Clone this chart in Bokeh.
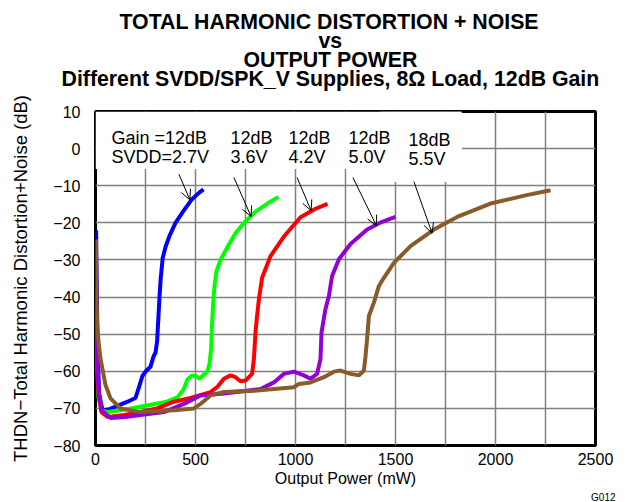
from bokeh.plotting import figure
from bokeh.models import (Range1d, FixedTicker, Label, Arrow, OpenHead, Title, BoxAnnotation)
from bokeh.embed import file_html
from bokeh.resources import INLINE

FONT = "Liberation Sans"

# ---- data (mW, dB) ----
blue_x = [3, 6, 10, 18, 35, 70, 110, 160, 200, 215, 235, 255, 275, 290, 300, 308, 315, 320, 326, 336, 350, 370, 400, 440, 480, 520, 540]
blue_y = [-22, -35, -52, -66, -70.5, -70.2, -69.3, -68.2, -67.2, -64.7, -61.2, -59.8, -58.8, -56, -55, -52, -45, -40, -35, -29.5, -26.5, -23.5, -20, -16.8, -13.8, -11.8, -11]

green_x = [3, 8, 15, 30, 60, 150, 250, 350, 410, 440, 460, 480, 500, 520, 540, 560, 570, 578, 583, 588, 595, 605, 625, 660, 700, 750, 800, 860, 915]
green_y = [-45, -60, -67, -70.5, -71, -70.3, -69.3, -68.3, -67, -65, -62.2, -61.2, -61.2, -62, -61, -60, -58, -54, -47, -42, -37, -33, -30, -26.5, -22.8, -19.6, -17, -14.8, -13]

red_x = [3, 8, 15, 30, 60, 142, 220, 308, 392, 475, 575, 608, 642, 675, 700, 725, 750, 783, 792, 800, 808, 817, 833, 875, 942, 1025, 1100, 1160]
red_y = [-42, -57, -66, -71, -72.3, -71.8, -71, -70, -68.2, -67.2, -65.6, -64.3, -62, -61.1, -61.6, -62.7, -62.5, -60.7, -56.7, -49.5, -45, -40.6, -34.8, -29, -23.7, -18.5, -16.2, -14.9]

purple_x = [3, 8, 15, 30, 75, 150, 225, 342, 442, 525, 642, 825, 892, 942, 992, 1042, 1075, 1108, 1125, 1130, 1150, 1167, 1183, 1217, 1275, 1358, 1430, 1500]
purple_y = [-38, -55, -65, -70.5, -72.6, -72.3, -71.8, -71, -68.8, -66.5, -66, -64.8, -63, -60.7, -60.1, -61.1, -62, -60.7, -56.7, -49.5, -43.2, -39.7, -34.3, -29.8, -25.7, -21.8, -19.8, -18.4]

brown_x = [2, 4, 8, 15, 25, 50, 75, 125, 225, 392, 492, 525, 575, 642, 808, 992, 1017, 1075, 1142, 1192, 1225, 1275, 1317, 1342, 1350, 1358, 1367, 1392, 1417, 1442, 1492, 1575, 1692, 1808, 1975, 2150, 2275]
brown_y = [-24.5, -38, -47, -52, -56.6, -63.7, -67.3, -70, -71, -70.5, -70, -68.8, -66.5, -65.6, -65.2, -64.3, -63.4, -63, -61.6, -60.1, -59.8, -60.7, -61.1, -59.8, -56, -51.3, -45.1, -41.5, -37, -34.8, -30.8, -26.3, -21.8, -18.4, -14.8, -12.6, -11.2]

series = [
    (blue_x, blue_y, "#0000FF"),
    (green_x, green_y, "#00FF00"),
    (red_x, red_y, "#FF0000"),
    (purple_x, purple_y, "#9400D3"),
    (brown_x, brown_y, "#8B5A2B"),
]

# annotation texts and anchor positions (mW, dB)
label_texts = ["Gain =12dB\nSVDD=2.7V", "12dB\n3.6V", "12dB\n4.2V", "12dB\n5.0V", "18dB\n5.5V"]
label_x = [80, 675, 965, 1265, 1565]
label_y = [5.55, 5.55, 5.55, 5.55, 5.0]

arrow_start_x = [417, 692, 1008, 1287, 1592]
arrow_start_y = [-6.9, -7.8, -7.8, -7.8, -8.9]
arrow_end_x = [472, 778, 1078, 1405, 1683]
arrow_end_y = [-13.8, -18.3, -16.7, -20.8, -22.8]

title_lines = ["TOTAL HARMONIC DISTORTION + NOISE", "vs", "OUTPUT POWER",
               "Different SVDD/SPK_V Supplies, 8\u03a9 Load, 12dB Gain"]
title_offsets = [24, 223, 148, -34]
title_standoffs = [-7, -7, -7, -7]

x_ticks = [0, 500, 1000, 1500, 2000, 2500]
x_grid = list(range(0, 2501, 250))
y_ticks = list(range(-80, 11, 10))

p = figure(width=625, height=502, output_backend="svg", toolbar_location=None,
           x_range=Range1d(0, 2500), y_range=Range1d(-80, 10))
p.min_border_left = 95
p.min_border_right = 30
p.min_border_top = 111
p.min_border_bottom = 55

p.outline_line_color = "black"
p.outline_line_width = 3

p.xaxis.ticker = FixedTicker(ticks=x_ticks)
p.yaxis.ticker = FixedTicker(ticks=y_ticks)
p.xgrid.ticker = FixedTicker(ticks=x_grid)
p.ygrid.ticker = FixedTicker(ticks=y_ticks)
for g in (p.xgrid, p.ygrid):
    g.grid_line_color = "#808080"
    g.grid_line_width = 1.5

for ax in (p.xaxis, p.yaxis):
    ax.axis_line_color = None
    ax.major_tick_line_color = None
    ax.minor_tick_line_color = None
    ax.major_label_text_font = FONT
    ax.major_label_text_font_size = "16px"
    ax.major_label_text_color = "black"
    ax.axis_label_text_font = FONT
    ax.axis_label_text_font_style = "normal"
    ax.axis_label_text_color = "black"

p.xaxis.major_label_standoff = 1
p.yaxis.major_label_standoff = 9
p.xaxis.axis_label = "Output Power (mW)"
p.xaxis.axis_label_text_font_size = "16px"
p.xaxis.axis_label_standoff = 2
p.yaxis.axis_label = "THDN\u2212Total Harmonic Distortion+Noise (dB)"
p.yaxis.axis_label_text_font_size = "18.5px"
p.yaxis.axis_label_standoff = 19
p.yaxis.major_label_overrides = {t: (str(t) if t >= 0 else "\u2212" + str(-t)) for t in y_ticks}

# white backgrounds behind the annotation texts
p.add_layout(BoxAnnotation(left=0, right=1830, top=10, bottom=-5.5, fill_color="white",
                           fill_alpha=1, line_color=None, level="underlay"))
p.add_layout(BoxAnnotation(left=1425, right=1830, top=10, bottom=-9, fill_color="white",
                           fill_alpha=1, line_color=None, level="underlay"))

for xs, ys, c in series:
    p.line(xs, ys, line_color=c, line_width=4)

for t, lx, ly in zip(label_texts, label_x, label_y):
    p.add_layout(Label(x=lx, y=ly, text=t, text_font=FONT, text_font_size="18px",
                       text_baseline="top", text_align="left", text_line_height=0.95,
                       text_color="black"))

for sx, sy, ex, ey in zip(arrow_start_x, arrow_start_y, arrow_end_x, arrow_end_y):
    p.add_layout(Arrow(x_start=sx, y_start=sy, x_end=ex, y_end=ey, line_width=1, line_color="black",
                       end=OpenHead(size=10, line_width=1, line_color="black")))

# spacer between the title block and the plot frame
p.add_layout(Title(text=" ", text_font_size="1px", standoff=21), "above")
# titles: last added is the top-most
for line, off, so in reversed(list(zip(title_lines, title_offsets, title_standoffs))):
    p.add_layout(Title(text=line, align="left", offset=off, text_font=FONT,
                       text_font_size="21.3px", text_font_style="bold",
                       text_color="black", standoff=so), "above")

p.add_layout(Title(text="G012", align="right", offset=-20, text_font=FONT,
                   text_font_size="10px", text_font_style="normal",
                   text_color="black", standoff=0), "below")

open("out.html", "w").write(file_html(p, INLINE))
